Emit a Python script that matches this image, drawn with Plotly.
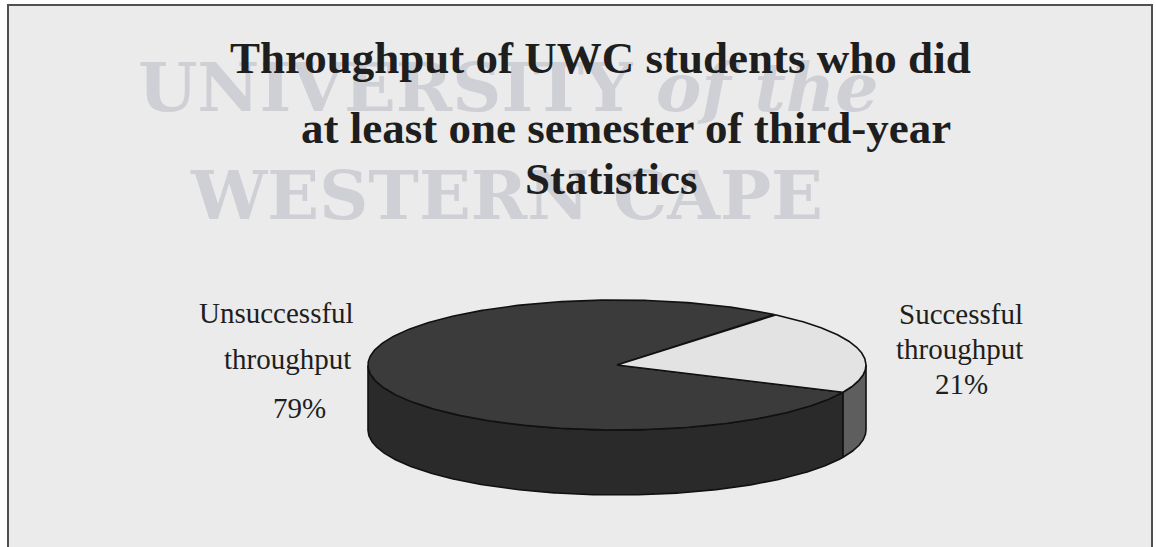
import numpy as np
import plotly.graph_objects as go

# ---------------- data ----------------
categories = ["Unsuccessful throughput", "Successful throughput"]
percent = [79, 21]
title_lines = ["Throughput of UWC students who did",
               "at least one semester of third-year",
               "Statistics"]
watermark_lines = ["UNIVERSITY <i>of the</i>", "WESTERN CAPE"]

# ---------------- styling ----------------
W, H = 1156, 547
top_colors = ["#3b3b3b", "#e3e3e3"]
side_colors = ["#2a2a2a", "#5e5e5e"]
bg = "#ebebeb"

# 3D pie geometry (unit circle, tilted)
R_PX = 249.0          # pixels per unit
CX_PX, CY_PX = 617, 365
TILT = 65 / R_PX
DEPTH = 65 / R_PX
START_DEG = -24.8     # first slice starts here, going clockwise

fig = go.Figure()

total = float(sum(percent))
spans = [p / total * 360.0 for p in percent]
slices = []
a = START_DEG
for cat, sp in zip(categories, spans):
    slices.append((cat, a, a - sp))
    a -= sp

def arc(a0, a1, n=240):
    return np.radians(np.linspace(a0, a1, n))

# side walls (front half only)
for i, (cat, a0, a1) in enumerate(slices):
    th = arc(a0, a1, 600)
    front = np.sin(th) <= 1e-9
    segs, cur = [], []
    for t, f in zip(th, front):
        if f:
            cur.append(t)
        elif cur:
            segs.append(cur); cur = []
    if cur:
        segs.append(cur)
    for seg in segs:
        seg = np.array(seg)
        xs = np.concatenate([np.cos(seg), np.cos(seg[::-1]), [np.cos(seg[0])]])
        ys = np.concatenate([TILT * np.sin(seg), TILT * np.sin(seg[::-1]) - DEPTH,
                             [TILT * np.sin(seg[0])]])
        fig.add_trace(go.Scatter(x=xs, y=ys, mode="lines", fill="toself",
                                 fillcolor=side_colors[i],
                                 line=dict(color="#111111", width=1.6),
                                 hoverinfo="skip", showlegend=False))

# top faces
for i, (cat, a0, a1) in enumerate(slices):
    th = arc(a0, a1, 400)
    xs = np.concatenate([[0], np.cos(th), [0]])
    ys = np.concatenate([[0], TILT * np.sin(th), [0]])
    fig.add_trace(go.Scatter(x=xs, y=ys, mode="lines", fill="toself",
                             fillcolor=top_colors[i],
                             line=dict(color="#111111", width=1.6),
                             name=cat, hoverinfo="name", showlegend=False))

# frame / background
fig.add_shape(type="rect", xref="paper", yref="paper",
              x0=8 / W, x1=1152 / W, y0=-0.05, y1=1 - 5 / H,
              fillcolor=bg, line=dict(color="#505050", width=2), layer="below")

def px_x(x):
    return x / W

def px_y(y):
    return 1 - y / H

# watermark
wm_font = dict(family="DejaVu Serif", size=68, color="#cfcfd6", weight="bold")
fig.add_annotation(text=watermark_lines[0], x=px_x(509), y=px_y(87), xref="paper", yref="paper",
                   showarrow=False, font=wm_font, xanchor="center", yanchor="middle")
fig.add_annotation(text=watermark_lines[1], x=px_x(506), y=px_y(195), xref="paper", yref="paper",
                   showarrow=False, font=wm_font, xanchor="center", yanchor="middle")

# title
tfont = dict(family="Liberation Serif", size=45, color="#1e1e1e", weight="bold")
title_pos = [(600, 58), (626, 128), (611, 179)]
for txt, (x, y) in zip(title_lines, title_pos):
    fig.add_annotation(text=txt, x=px_x(x), y=px_y(y), xref="paper", yref="paper",
                       showarrow=False, font=tfont, xanchor="center", yanchor="middle")

# labels
lfont = dict(family="Liberation Serif", size=29, color="#1e1e1e")
def label_lines(cat, p):
    w = cat.split(" ")
    return [w[0], w[1], f"{p}%"]

left_pos = [(276, 313), (287, 359), (299, 408)]
right_pos = [(961, 314), (959, 349), (961, 384)]
for (cat, p), poss in zip(zip(categories, percent), [left_pos, right_pos]):
    for txt, (x, y) in zip(label_lines(cat, p), poss):
        fig.add_annotation(text=txt, x=px_x(x), y=px_y(y), xref="paper", yref="paper",
                           showarrow=False, font=lfont, xanchor="center", yanchor="middle")

fig.update_layout(
    width=W, height=H,
    margin=dict(l=0, r=0, t=0, b=0),
    paper_bgcolor="white",
    plot_bgcolor="rgba(0,0,0,0)",
    xaxis=dict(range=[-CX_PX / R_PX, (W - CX_PX) / R_PX], visible=False, fixedrange=True),
    yaxis=dict(range=[-(H - CY_PX) / R_PX, CY_PX / R_PX], visible=False, fixedrange=True),
    showlegend=False,
)

fig.write_html("out.html", config={"displayModeBar": False},
               post_script="document.body.style.margin='0';")
